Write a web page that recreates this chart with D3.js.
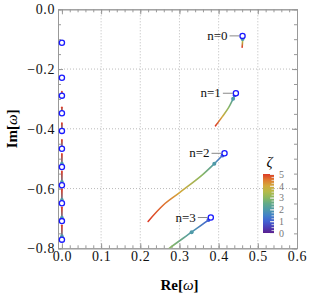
<!DOCTYPE html>
<html>
<head>
<meta charset="utf-8">
<script src="https://cdn.jsdelivr.net/npm/d3@7"></script>
<style>
  body { margin: 0; background: #fff; }
  svg { display: block; font-family: "Liberation Serif", "DejaVu Serif", serif; }
</style>
</head>
<body>
<div id="chart"></div>
<script>
// colour legend of zeta (Mathematica-like rainbow)
const zetaStops = [0, 0.5, 1, 1.5, 2, 2.5, 3, 3.5, 4, 4.5, 5];
const zetaColors = ["#5b1f8f", "#4a3fb8", "#4262d2", "#4382c8", "#4f9aa8", "#62aa88",
                    "#8cb860", "#b5bb48", "#d3a93c", "#e07a30", "#dc3b26"];
const zetaTicks = [0, 1, 2, 3, 4, 5];

// purely damped modes on the imaginary axis: Im at zeta=0 and zeta=5
const axisModeIm0 = [-0.112, -0.229, -0.289, -0.348, -0.407, -0.467, -0.528, -0.589, -0.649, -0.709, -0.771];
const axisModeIm5 = [-0.112, -0.229, -0.276, -0.328, -0.381, -0.437, -0.484, -0.543, -0.603, -0.663, -0.723];

// overtone trajectories: [Re, Im, zeta]
const modeN = [0, 1, 2, 3];
const traj0 = [[0.461, -0.089, 0], [0.461, -0.094, 1], [0.461, -0.099, 2], [0.461, -0.108, 3.5], [0.460, -0.127, 5]];
const traj1 = [[0.444, -0.281, 0], [0.441, -0.288, 1], [0.437, -0.299, 2], [0.425, -0.330, 3], [0.409, -0.360, 4], [0.392, -0.390, 5]];
const traj2 = [[0.415, -0.482, 0], [0.410, -0.489, 1], [0.389, -0.517, 2], [0.357, -0.556, 3], [0.301, -0.613, 4], [0.259, -0.655, 4.6], [0.220, -0.710, 5]];
const traj3 = [[0.380, -0.697, 0], [0.374, -0.705, 1], [0.331, -0.746, 2], [0.274, -0.800, 3], [0.255, -0.820, 3.4]];
const trajectories = [traj0, traj1, traj2, traj3];

const xTicks = [0, 0.1, 0.2, 0.3, 0.4, 0.5, 0.6];
const yTicks = [0, -0.2, -0.4, -0.6, -0.8];

const W = 309, H = 296;
const pLeft = 58, pRight = 297, pTop = 9.3, pBottom = 248.3;

const x = d3.scaleLinear().domain([-0.01, 0.6]).range([pLeft, pRight]);
const y = d3.scaleLinear().domain([0, -0.8]).range([pTop, pBottom]);
const color = d3.scaleLinear().domain(zetaStops).range(zetaColors);

const svg = d3.select("#chart").append("svg").attr("width", W).attr("height", H);
const defs = svg.append("defs");
defs.append("clipPath").attr("id", "clip")
  .append("rect").attr("x", pLeft).attr("y", pTop).attr("width", pRight - pLeft).attr("height", pBottom - pTop);

const frameColor = "#999";
const serif = "'Liberation Serif', 'DejaVu Serif', serif";

// gridlines
const grid = svg.append("g").attr("stroke", "#aaa").attr("stroke-width", 0.8).attr("stroke-dasharray", "1,2");
grid.selectAll(".gx").data(xTicks.filter(d => d > 0 && d < 0.6)).enter().append("line")
  .attr("x1", d => x(d)).attr("x2", d => x(d)).attr("y1", pTop).attr("y2", pBottom);
grid.selectAll(".gy").data(yTicks.filter(d => d < 0 && d > -0.8)).enter().append("line")
  .attr("y1", d => y(d)).attr("y2", d => y(d)).attr("x1", pLeft).attr("x2", pRight);

// axes with inward ticks
function styleAxis(g) {
  g.attr("font-family", serif).attr("font-size", 14);
  g.select(".domain").attr("stroke", frameColor);
  g.selectAll(".tick line").attr("stroke", frameColor);
  g.selectAll(".tick text").attr("fill", "#111").style("letter-spacing", "0.6px");
}
function noText(g) { g.selectAll(".tick text").remove(); }
const xMinor = d3.range(0, 0.601, 0.02);
const yMinor = d3.range(0, -0.801, -0.05);

svg.append("g").attr("transform", `translate(0,${pBottom})`)
  .call(d3.axisBottom(x).tickValues(xMinor).tickSize(-3).tickSizeOuter(0)).call(styleAxis).call(noText);
svg.append("g").attr("transform", `translate(0,${pBottom})`)
  .call(d3.axisBottom(x).tickValues(xTicks).tickSize(-5).tickPadding(3).tickSizeOuter(0).tickFormat(d3.format(".1f")))
  .call(styleAxis);
svg.append("g").attr("transform", `translate(0,${pTop})`)
  .call(d3.axisTop(x).tickValues(xMinor).tickSize(-3).tickSizeOuter(0)).call(styleAxis).call(noText);
svg.append("g").attr("transform", `translate(0,${pTop})`)
  .call(d3.axisTop(x).tickValues(xTicks).tickSize(-5).tickSizeOuter(0)).call(styleAxis).call(noText);

svg.append("g").attr("transform", `translate(${pLeft},0)`)
  .call(d3.axisLeft(y).tickValues(yMinor).tickSize(-3).tickSizeOuter(0)).call(styleAxis).call(noText);
svg.append("g").attr("transform", `translate(${pLeft},0)`)
  .call(d3.axisLeft(y).tickValues(yTicks).tickSize(-5).tickPadding(3).tickSizeOuter(0)
    .tickFormat(d => d === 0 ? "0.0" : "\u2212" + d3.format(".1f")(-d)))
  .call(styleAxis);
svg.append("g").attr("transform", `translate(${pRight},0)`)
  .call(d3.axisRight(y).tickValues(yMinor).tickSize(-3).tickSizeOuter(0)).call(styleAxis).call(noText);
svg.append("g").attr("transform", `translate(${pRight},0)`)
  .call(d3.axisRight(y).tickValues(yTicks).tickSize(-5).tickSizeOuter(0)).call(styleAxis).call(noText);

// axis titles
svg.append("text").attr("x", (pLeft + pRight) / 2 + 2).attr("y", 290).attr("text-anchor", "middle")
  .attr("font-family", serif).style("font-size", "15px").style("font-weight", "bold")
  .html('Re[<tspan font-style="italic" font-weight="normal">ω</tspan>]');
svg.append("text").attr("transform", `translate(17,${(pTop + pBottom) / 2}) rotate(-90)`).attr("text-anchor", "middle")
  .attr("font-family", serif).style("font-size", "15px").style("font-weight", "bold")
  .html('Im[<tspan font-style="italic" font-weight="normal">ω</tspan>]');

const plot = svg.append("g").attr("clip-path", "url(#clip)");
let gradId = 0;

// draw a trajectory as one smooth path, coloured by zeta with a gradient along its chord
function drawTrajectory(g, pts, w) {
  const id = "g" + (gradId++);
  const p0 = pts[0], pn = pts[pts.length - 1];
  const x0 = x(p0[0]), y0 = y(p0[1]), x1 = x(pn[0]) + 0.01, y1 = y(pn[1]) + 0.01;
  const dx = x1 - x0, dy = y1 - y0, L2 = dx * dx + dy * dy;
  const lg = defs.append("linearGradient").attr("id", id).attr("gradientUnits", "userSpaceOnUse")
    .attr("x1", x0).attr("y1", y0).attr("x2", x1).attr("y2", y1);
  pts.forEach(p => {
    const t = ((x(p[0]) - x0) * dx + (y(p[1]) - y0) * dy) / L2;
    lg.append("stop").attr("offset", Math.max(0, Math.min(1, t))).attr("stop-color", color(p[2]));
  });
  const line = d3.line().x(d => x(d[0])).y(d => y(d[1])).curve(d3.curveCatmullRom);
  g.append("path").attr("d", line(pts)).attr("fill", "none")
    .attr("stroke", `url(#${id})`).attr("stroke-width", w).attr("stroke-linecap", "round");
}

// imaginary-axis modes
axisModeIm0.forEach((im0, i) => {
  const im5 = axisModeIm5[i];
  if (im5 === im0) return;
  drawTrajectory(plot, [[0, im0, 1.8], [0, im5, 5]], 1.8);
});
axisModeIm0.forEach((im0, i) => {
  if (i > 5) {
    plot.append("circle").attr("cx", x(0)).attr("cy", y(im0) - 3.5).attr("r", 1.8).attr("fill", color(2));
  }
});

// overtone trajectories
trajectories.forEach(tr => {
  drawTrajectory(plot, tr, 1.6);
  tr.filter(d => d[2] === 1 || d[2] === 2).forEach(d => {
    plot.append("circle").attr("cx", x(d[0])).attr("cy", y(d[1])).attr("r", 2).attr("fill", color(d[2]));
  });
});

// zeta = 0 markers
const circStyle = sel => sel.attr("r", 2.6).attr("fill", "#fff").attr("stroke", "#1a1aff").attr("stroke-width", 1.3);
svg.selectAll(".c0").data(axisModeIm0).enter().append("circle")
  .attr("cx", x(0)).attr("cy", d => y(d)).call(circStyle);
svg.selectAll(".c1").data(trajectories).enter().append("circle")
  .attr("cx", d => x(d[0][0])).attr("cy", d => y(d[0][1])).call(circStyle);

// n labels with leader lines
trajectories.forEach((tr, i) => {
  const cx = x(tr[0][0]), cy = y(tr[0][1]);
  svg.append("line").attr("x1", cx - 13).attr("x2", cx - 3).attr("y1", cy).attr("y2", cy)
    .attr("stroke", "#888").attr("stroke-width", 1);
  svg.append("text").attr("x", cx - 15).attr("y", cy + 4).attr("text-anchor", "end")
    .attr("font-family", serif).style("font-size", "13px").attr("fill", "#111").text("n=" + modeN[i]);
});

// colour bar
const cbX = 263, cbW = 11, cbTop = 174, cbBot = 233;
const cbY = d3.scaleLinear().domain([0, 5]).range([cbBot, cbTop]);
const cg = defs.append("linearGradient").attr("id", "cbar").attr("x1", 0).attr("y1", 1).attr("x2", 0).attr("y2", 0);
zetaStops.forEach((z, i) => cg.append("stop").attr("offset", z / 5).attr("stop-color", zetaColors[i]));
svg.append("rect").attr("x", cbX).attr("y", cbTop).attr("width", cbW).attr("height", cbBot - cbTop)
  .attr("fill", "url(#cbar)");
const cbAxis = svg.append("g").attr("transform", `translate(${cbX + cbW},0)`);
cbAxis.call(d3.axisRight(cbY).tickValues(d3.range(0, 5.01, 0.25)).tickSize(-2.5).tickSizeOuter(0)).call(noText);
cbAxis.select(".domain").remove();
cbAxis.selectAll(".tick line").attr("stroke", "#e8e8e8").attr("stroke-width", 0.8);
const cbAxis2 = svg.append("g").attr("transform", `translate(${cbX + cbW},0)`);
cbAxis2.call(d3.axisRight(cbY).tickValues(zetaTicks).tickSize(-4).tickPadding(5).tickSizeOuter(0)
  .tickFormat(d3.format("d")));
cbAxis2.attr("font-family", serif).attr("font-size", 10);
cbAxis2.select(".domain").remove();
cbAxis2.selectAll(".tick line").attr("stroke", "#eee");
cbAxis2.selectAll(".tick text").attr("fill", "#777");
svg.append("text").attr("x", cbX + cbW / 2 + 1).attr("y", 167).attr("text-anchor", "middle")
  .attr("font-family", serif).style("font-size", "15px").style("font-style", "italic").text("ζ");
</script>
</body>
</html>
